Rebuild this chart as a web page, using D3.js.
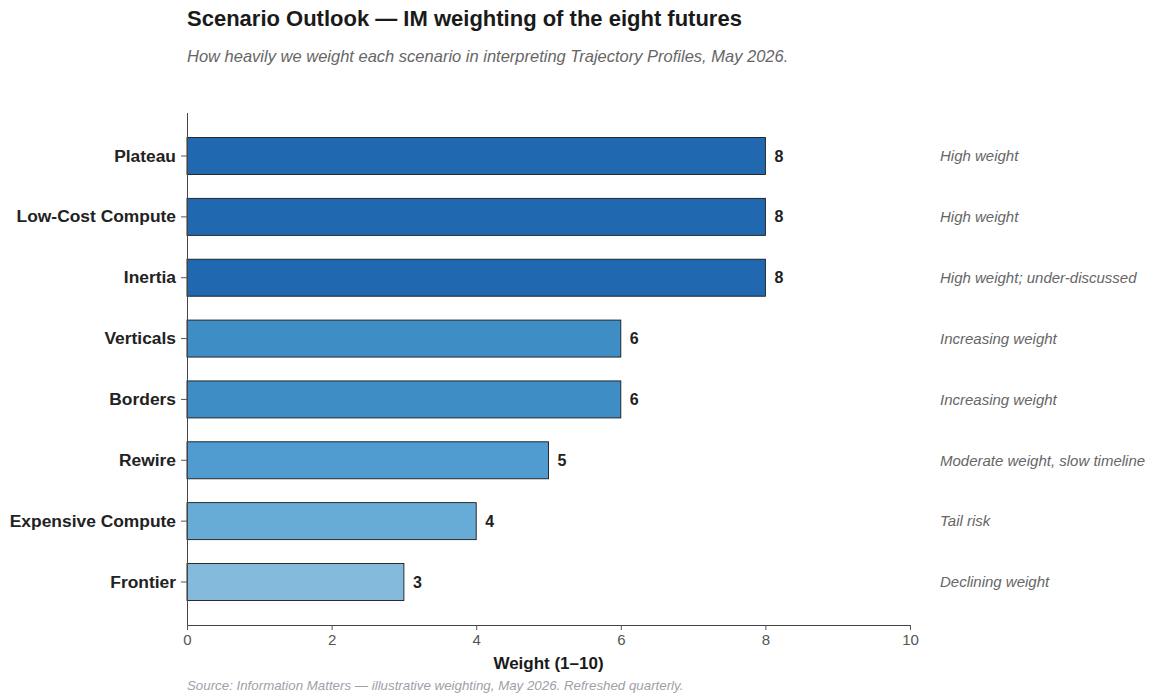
<!DOCTYPE html>
<html>
<head>
<meta charset="utf-8">
<script src="https://cdn.jsdelivr.net/npm/d3@7"></script>
<style>
  body { margin: 0; background: #fff; font-family: "Liberation Sans", Arial, sans-serif; }
</style>
</head>
<body>
<div id="vis"></div>
<script>
// chart data
const SCENARIOS = ["Plateau", "Low-Cost Compute", "Inertia", "Verticals", "Borders",
                   "Rewire", "Expensive Compute", "Frontier"];
const WEIGHTS = [8, 8, 8, 6, 6, 5, 4, 3];
const NOTES = ["High weight", "High weight", "High weight; under-discussed",
               "Increasing weight", "Increasing weight", "Moderate weight, slow timeline",
               "Tail risk", "Declining weight"];
const BAR_COLORS = ["#2069b0", "#2069b0", "#2069b0", "#3f8dc5", "#3f8dc5",
                    "#509bcf", "#67acd6", "#84bbdc"];
const X_TICKS = [0, 2, 4, 6, 8, 10];

const FRAME_WIDTH = 1150;
const FRAME_HEIGHT = 696;
const MARGINS = {left: 187, right: 240, top: 113, bottom: 71};

const VIS_WIDTH = FRAME_WIDTH - MARGINS.left - MARGINS.right;
const VIS_HEIGHT = FRAME_HEIGHT - MARGINS.top - MARGINS.bottom;

const FRAME = d3.select("#vis")
                .append("svg")
                    .attr("width", FRAME_WIDTH)
                    .attr("height", FRAME_HEIGHT);

// title + subtitle
FRAME.append("text")
    .attr("x", 187)
    .attr("y", 26)
    .attr("font-size", "22px")
    .attr("font-weight", "bold")
    .attr("fill", "#1a1a1a")
    .text("Scenario Outlook \u2014 IM weighting of the eight futures");

FRAME.append("text")
    .attr("x", 187)
    .attr("y", 62)
    .attr("font-size", "16.5px")
    .attr("font-style", "italic")
    .attr("fill", "#666")
    .text("How heavily we weight each scenario in interpreting Trajectory Profiles, May 2026.");

const X_SCALE = d3.scaleLinear()
                    .domain([0, 10])
                    .range([0, VIS_WIDTH]);

const Y_SCALE = d3.scaleBand()
                    .domain(SCENARIOS)
                    .range([12.6, VIS_HEIGHT - 12.6])
                    .paddingInner(0.392)
                    .paddingOuter(0.196);

const PLOT = FRAME.append("g")
    .attr("transform", "translate(" + MARGINS.left + "," + MARGINS.top + ")");

const rows = SCENARIOS.map((s, i) => ({name: s, value: WEIGHTS[i], note: NOTES[i], color: BAR_COLORS[i]}));

// bars
PLOT.selectAll(".bar")
    .data(rows)
    .enter()
    .append("rect")
        .attr("class", "bar")
        .attr("x", X_SCALE(0))
        .attr("y", (d) => { return Y_SCALE(d.name); })
        .attr("width", (d) => { return X_SCALE(d.value); })
        .attr("height", Y_SCALE.bandwidth())
        .attr("fill", (d) => { return d.color; })
        .attr("stroke", "#1a1a1a")
        .attr("stroke-width", 0.9);

// value labels
PLOT.selectAll(".val")
    .data(rows)
    .enter()
    .append("text")
        .attr("class", "val")
        .attr("x", (d) => { return X_SCALE(d.value) + 9; })
        .attr("y", (d) => { return Y_SCALE(d.name) + Y_SCALE.bandwidth() / 2; })
        .attr("dy", "0.35em")
        .attr("font-size", "16px")
        .attr("font-weight", "bold")
        .attr("fill", "#222")
        .text((d) => { return d.value; });

// notes on the right
PLOT.selectAll(".note")
    .data(rows)
    .enter()
    .append("text")
        .attr("class", "note")
        .attr("x", 753)
        .attr("y", (d) => { return Y_SCALE(d.name) + Y_SCALE.bandwidth() / 2; })
        .attr("dy", "0.35em")
        .attr("font-size", "15px")
        .attr("font-style", "italic")
        .attr("fill", "#666")
        .text((d) => { return d.note; });

// x axis
const X_AXIS = PLOT.append("g")
    .attr("transform", "translate(0," + VIS_HEIGHT + ")")
    .call(d3.axisBottom(X_SCALE).tickValues(X_TICKS).tickSize(5).tickPadding(4));
X_AXIS.selectAll("text").attr("font-size", "15px").attr("fill", "#555")
    .attr("font-family", "Liberation Sans, Arial, sans-serif");
X_AXIS.selectAll("line").attr("stroke", "#555");
X_AXIS.select(".domain").attr("stroke", "#444").attr("d", "M0,0.5H" + VIS_WIDTH);

// y axis
const Y_AXIS = PLOT.append("g")
    .call(d3.axisLeft(Y_SCALE).tickSize(6).tickPadding(5));
Y_AXIS.selectAll("text").attr("font-size", "17.4px").attr("font-weight", "bold").attr("fill", "#222")
    .attr("font-family", "Liberation Sans, Arial, sans-serif");
Y_AXIS.selectAll("line").attr("stroke", "#555");
Y_AXIS.select(".domain").attr("stroke", "#444").attr("d", "M0.5,0V" + VIS_HEIGHT);

// axis title
FRAME.append("text")
    .attr("x", MARGINS.left + VIS_WIDTH / 2)
    .attr("y", 669)
    .attr("text-anchor", "middle")
    .attr("font-size", "17px")
    .attr("font-weight", "bold")
    .attr("fill", "#1a1a1a")
    .text("Weight (1\u201310)");

// source line
FRAME.append("text")
    .attr("x", 187)
    .attr("y", 690)
    .attr("font-size", "13.3px")
    .attr("font-style", "italic")
    .attr("fill", "#a0a0a8")
    .text("Source: Information Matters \u2014 illustrative weighting, May 2026. Refreshed quarterly.");
</script>
</body>
</html>
